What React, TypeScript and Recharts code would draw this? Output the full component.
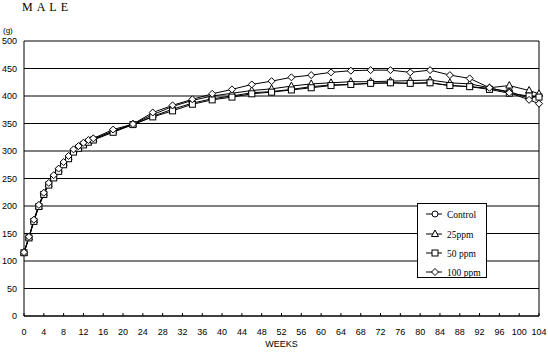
import { CartesianGrid, Legend, Line, LineChart, ReferenceLine, XAxis, YAxis } from 'recharts'

const weeks = [
  0, 1, 2, 3, 4, 5, 6, 7, 8, 9, 10, 11, 12, 13, 14, 18, 22, 26, 30, 34, 38, 42, 46, 50, 54, 58, 62, 66,
  70, 74, 78, 82, 86, 90, 94, 98, 102, 104,
]

const control = [
  115, 143, 173, 200, 222, 240, 253, 265, 277, 288, 300, 306, 312, 317, 321, 336, 348, 363, 376, 387,
  395, 400, 406, 408, 412, 417, 420, 421, 423, 424, 423, 424, 419, 417, 414, 408, 396, 400,
]
const ppm25 = [
  115, 143, 174, 200, 223, 240, 254, 266, 278, 289, 301, 307, 313, 318, 322, 336, 349, 366, 381, 392,
  400, 405, 410, 413, 418, 422, 424, 426, 426, 427, 428, 429, 424, 422, 415, 419, 410, 404,
]
const ppm50 = [
  115, 142, 172, 199, 221, 238, 251, 263, 275, 286, 298, 305, 311, 316, 320, 334, 348, 362, 373, 385,
  393, 398, 404, 407, 411, 415, 419, 421, 423, 424, 423, 424, 419, 417, 412, 405, 400, 398,
]
const ppm100 = [
  116, 144, 175, 202, 224, 242, 256, 268, 280, 291, 303, 309, 315, 320, 323, 339, 349, 370, 383, 394,
  404, 412, 421, 427, 434, 438, 443, 446, 447, 447, 443, 447, 438, 432, 415, 406, 393, 386,
]

const yTicks = [0, 50, 100, 150, 200, 250, 300, 350, 400, 450, 500]
const xTicks = [0, 4, 8, 12, 16, 20, 24, 28, 32, 36, 40, 44, 48, 52, 56, 60, 64, 68, 72, 76, 80, 84, 88, 92, 96, 100, 104]

const seriesNames = ['Control', '25ppm', '50 ppm', '100 ppm']
const seriesKeys = ['control', 'ppm25', 'ppm50', 'ppm100']
const shapes = ['circle', 'triangle', 'square', 'diamond']

const data = weeks.map((week, i) => ({
  week,
  control: control[i],
  ppm25: ppm25[i],
  ppm50: ppm50[i],
  ppm100: ppm100[i],
}))

const tickFont = { fontFamily: 'Liberation Sans, Arial, sans-serif', fontSize: 9, fill: '#000' }

function Marker({ shape, cx, cy }: { shape: string; cx: number; cy: number }) {
  const common = { fill: '#fff', stroke: '#000', strokeWidth: 1 }
  if (shape === 'circle') return <circle cx={cx} cy={cy} r={3} {...common} />
  if (shape === 'triangle')
    return <polygon points={`${cx},${cy - 4} ${cx + 3.5},${cy + 2.5} ${cx - 3.5},${cy + 2.5}`} {...common} />
  if (shape === 'square') return <rect x={cx - 3} y={cy - 3} width={6} height={6} {...common} />
  return <polygon points={`${cx},${cy - 3.5} ${cx + 3.5},${cy} ${cx},${cy + 3.5} ${cx - 3.5},${cy}`} {...common} />
}

function WeekTick({ x, y, payload }: any) {
  return (
    <g>
      <line x1={x} x2={x} y1={y} y2={y - 3} stroke="#000" />
      <text x={x} y={y + 19} textAnchor="middle" {...tickFont}>
        {payload.value}
      </text>
    </g>
  )
}

function LegendBox() {
  const rows = [10, 30, 49, 68]
  return (
    <div style={{ width: 70, height: 75, border: '1px solid #000', background: '#fff', boxSizing: 'border-box' }}>
      <svg width={68} height={73} style={{ display: 'block' }}>
        {seriesNames.map((name, i) => (
          <g key={name}>
            <line x1={8} x2={24} y1={rows[i]} y2={rows[i]} stroke="#000" />
            <Marker shape={shapes[i]} cx={17} cy={rows[i]} />
            <text
              x={29}
              y={rows[i] + 3.5}
              fontFamily="Liberation Serif, serif"
              fontSize={9.5}
              fill="#000"
            >
              {name}
            </text>
          </g>
        ))}
      </svg>
    </div>
  )
}

export default function App() {
  return (
    <div style={{ position: 'absolute', left: 0, top: 0, width: 548, height: 357, background: '#fff' }}>
      <div
        style={{
          position: 'absolute',
          left: 22,
          top: 0,
          fontFamily: 'Liberation Serif, serif',
          fontSize: 12,
          letterSpacing: 4,
          lineHeight: '14px',
        }}
      >
        MALE
      </div>
      <div
        style={{
          position: 'absolute',
          left: 3,
          top: 26,
          fontFamily: 'Liberation Sans, sans-serif',
          fontSize: 8,
          lineHeight: '10px',
        }}
      >
        (g)
      </div>
      <LineChart width={548} height={357} data={data} margin={{ top: 41, right: 9, bottom: 0, left: 0 }}>
        <CartesianGrid vertical={false} stroke="#000" strokeWidth={1} />
        <XAxis
          dataKey="week"
          type="number"
          domain={[0, 104]}
          ticks={xTicks}
          height={41}
          tickSize={0}
          tickMargin={0}
          tick={<WeekTick />}
          axisLine={{ stroke: '#000' }}
          interval={0}
          label={{ value: 'WEEKS', position: 'insideBottom', offset: 10, ...tickFont }}
        />
        <YAxis
          type="number"
          domain={[0, 500]}
          ticks={yTicks}
          width={24}
          tickLine={false}
          tickSize={0}
          tickMargin={7}
          tick={tickFont}
          axisLine={{ stroke: '#000' }}
          interval={0}
        />
        <ReferenceLine x={104} stroke="#000" />
        {seriesKeys.map((k, i) => (
          <Line
            key={k}
            dataKey={k}
            name={seriesNames[i]}
            type="linear"
            stroke="#000"
            strokeWidth={1}
            isAnimationActive={false}
            dot={(p: any) => <Marker key={`${k}-${p.index}`} shape={shapes[i]} cx={p.cx} cy={p.cy} />}
            activeDot={false}
          />
        ))}
        <Legend
          layout="horizontal"
          align="center"
          verticalAlign="middle"
          wrapperStyle={{ left: 417, top: 203, width: 70, height: 75 }}
          content={() => <LegendBox />}
        />
      </LineChart>
    </div>
  )
}
